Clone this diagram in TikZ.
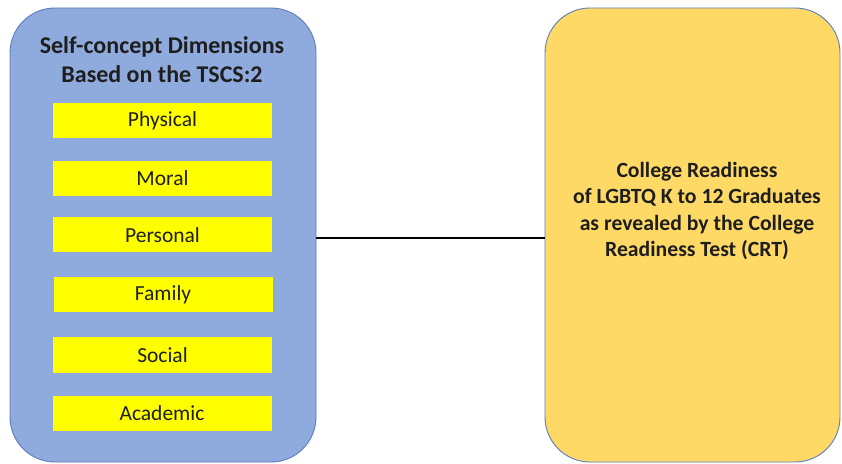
\documentclass[tikz,border=0pt]{standalone}
\usepackage{fontspec}
\setmainfont{Carlito}
\usetikzlibrary{positioning}

\definecolor{dimblue}{HTML}{8FAADC}
\definecolor{dimedge}{HTML}{5A7DBD}
\definecolor{crtgold}{HTML}{FFD966}
\definecolor{itemyellow}{HTML}{FFFF00}
\definecolor{inktext}{HTML}{1E1E1E}

\begin{document}
\begin{tikzpicture}[x=1pt, y=1pt, text=inktext,
	bigbox/.style={draw=dimedge, line width=0.9pt, rounded corners=45pt, minimum height=454pt},
	item/.style={fill=itemyellow, minimum width=219pt, minimum height=35pt, font=\fontsize{21.5}{24}\selectfont}]
	\useasboundingbox (0,0) rectangle (842,463);

	\node [bigbox, fill=dimblue, minimum width=306pt] (dims) at (163,228) {};
	\node [bigbox, fill=crtgold, minimum width=295pt] (crt) at (692.5,228) {};

	\node [align=center, font=\bfseries\fontsize{24}{29}\selectfont] (title) at (162,403) {Self-concept Dimensions\\Based on the TSCS:2};

	\node [item] (physical) at (162.5,342) {Physical};
	\node [item] (moral) at (162.5,284.5) {Moral};
	\node [item] (personal) at (162.5,228) {Personal};
	\node [item] (family) at (163,168) {Family};
	\node [item] (social) at (162.5,108) {Social};
	\node [item] (academic) at (162,50) {Academic};

	\node [align=center, font=\bfseries\fontsize{21.7}{26.5}\selectfont] (readiness) at (697,252) {College Readiness\\of LGBTQ K to 12 Graduates\\as revealed by the College\\Readiness Test (CRT)};

	\draw [line width=1.6pt] ([yshift=-3pt]dims.east) -- ([yshift=-3pt]crt.west);
\end{tikzpicture}
\end{document}
